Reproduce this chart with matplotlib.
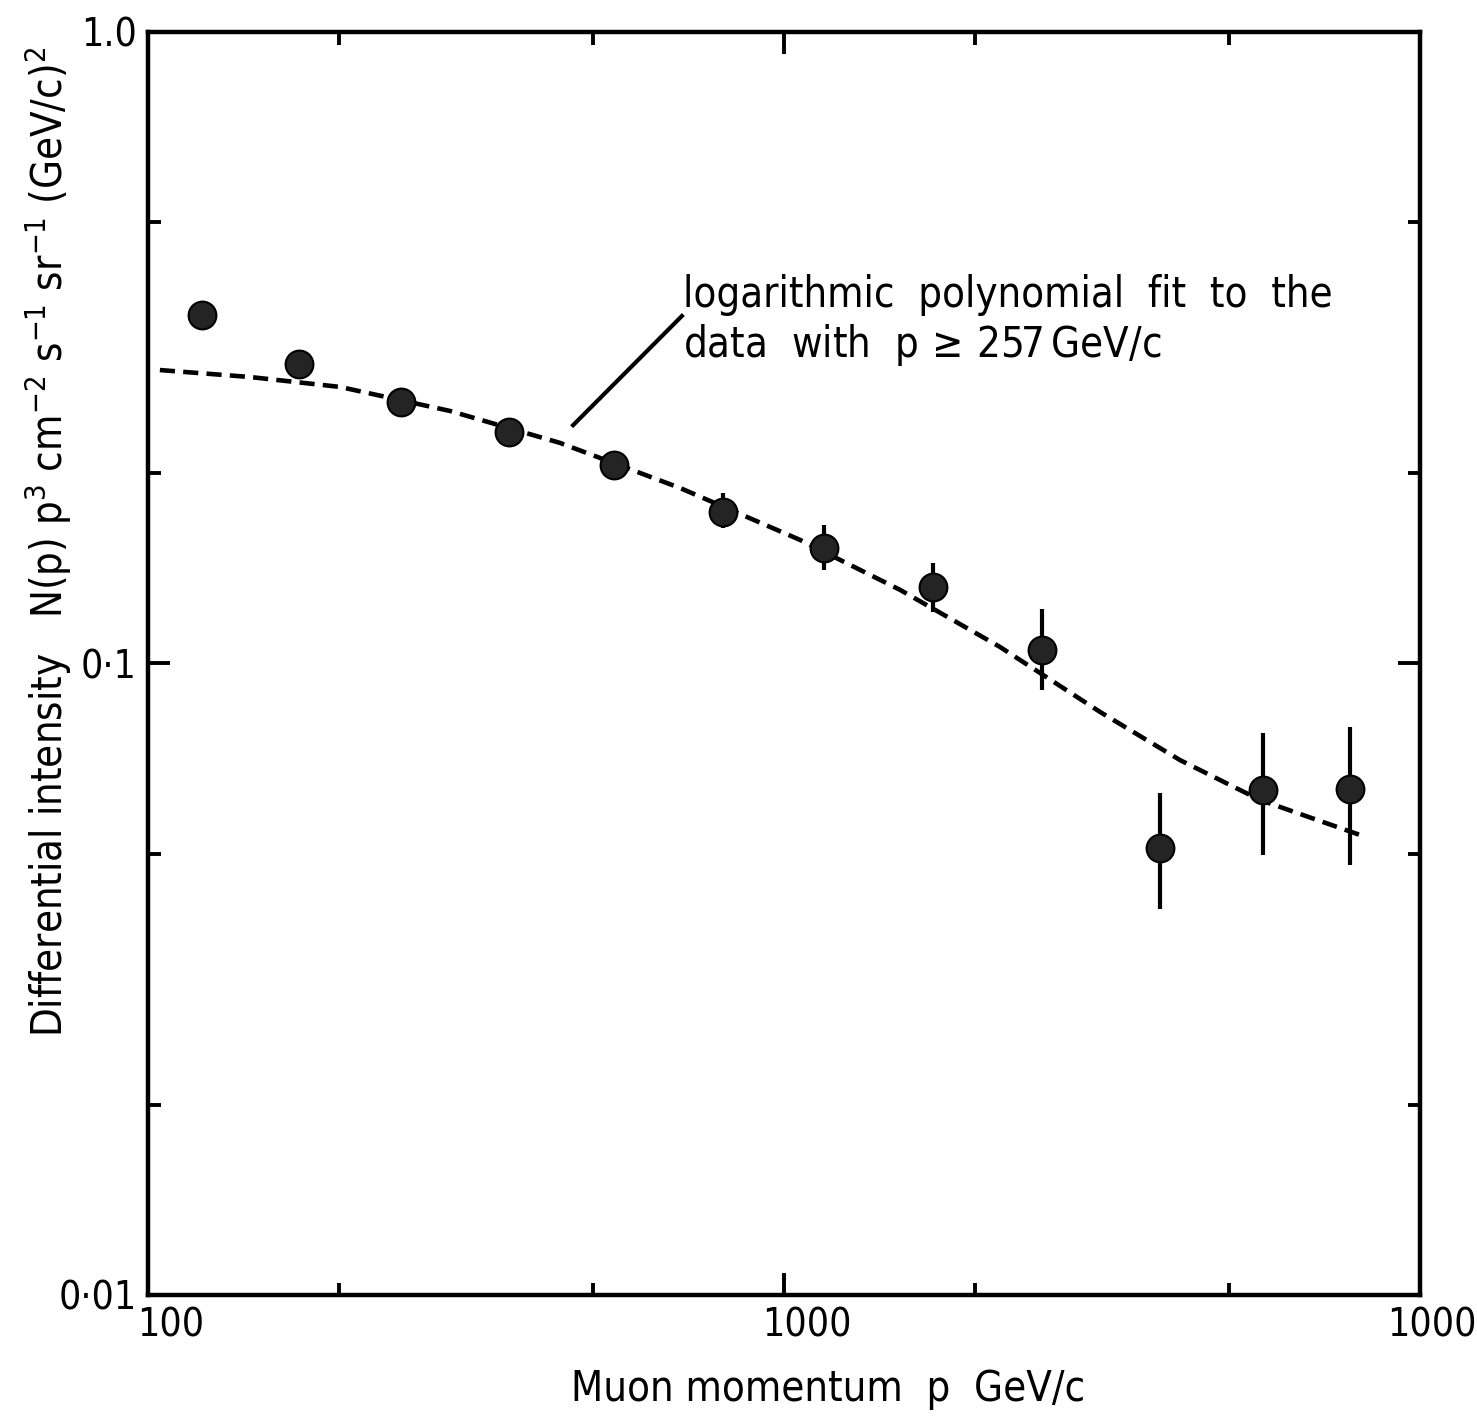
import matplotlib
matplotlib.use("Agg")
import matplotlib.pyplot as plt
from matplotlib.ticker import FixedLocator, FixedFormatter, NullFormatter
from matplotlib.transforms import ScaledTranslation

# Messpunkte
momentum = [121.6, 172.8, 249.9, 369.5, 540.5, 802, 1156, 1715, 2545, 3901, 5664, 7762]
intensity = [0.356, 0.298, 0.2595, 0.2326, 0.2062, 0.1738, 0.1524, 0.1322, 0.1050, 0.0510, 0.0630, 0.0632]
obere_grenze = [0.356, 0.298, 0.2595, 0.2326, 0.2062, 0.1862, 0.1657, 0.1443, 0.1220, 0.0624, 0.0776, 0.0793]
untere_grenze = [0.356, 0.298, 0.2595, 0.2326, 0.2062, 0.1640, 0.1406, 0.1207, 0.0908, 0.0409, 0.0497, 0.0480]

# logarithmischer Polynom-Fit (gestrichelte Kurve)
fit_p = [104.4, 144.7, 200.4, 298.5, 444.4, 686.5, 1060, 1522, 2186, 3140, 4195, 5603, 8050]
fit_n = [0.2915, 0.2842, 0.2741, 0.2511, 0.2235, 0.1896, 0.1569, 0.1308, 0.1062, 0.0838, 0.0703, 0.0608, 0.0535]

x_ticks = [100, 1000, 10000]
x_tick_labels = ["100", "1000", "10000"]
y_ticks = [0.01, 0.1, 1.0]
y_tick_labels = ["0·01", "0·1", "1.0"]

plt.rcParams["font.family"] = ["DejaVu Sans"]
plt.rcParams["font.stretch"] = "condensed"

fig = plt.figure(figsize=(14.77, 14.21), dpi=100)
ax = fig.add_axes([0.1002, 0.0887, 0.8612, 0.8888])

ax.set_xscale("log")
ax.set_yscale("log")
ax.set_xlim(100, 10000)
ax.set_ylim(0.01, 1.0)

# Kurve
kurve, = ax.plot(fit_p, fit_n, color="black", lw=3.3, zorder=2)
kurve.set_dashes([3.3, 1.8])

# Fehlerbalken + Punkte
fehler_unten = [i - u for i, u in zip(intensity, untere_grenze)]
fehler_oben = [o - i for i, o in zip(intensity, obere_grenze)]
ax.errorbar(momentum, intensity, yerr=[fehler_unten, fehler_oben], fmt="none",
            ecolor="black", elinewidth=3.0, capsize=0, zorder=3)
ax.plot(momentum, intensity, "o", ms=20, mfc="#242424", mec="black", mew=1.5, zorder=4)

# Achsen und Ticks
for s in ax.spines.values():
    s.set_linewidth(3.2)
ax.xaxis.set_major_locator(FixedLocator(x_ticks))
ax.xaxis.set_major_formatter(FixedFormatter(x_tick_labels))
ax.xaxis.set_minor_locator(FixedLocator([200, 500, 2000, 5000]))
ax.xaxis.set_minor_formatter(NullFormatter())
ax.yaxis.set_major_locator(FixedLocator(y_ticks))
ax.yaxis.set_major_formatter(FixedFormatter(y_tick_labels))
ax.yaxis.set_minor_locator(FixedLocator([0.02, 0.05, 0.2, 0.5]))
ax.yaxis.set_minor_formatter(NullFormatter())
ax.tick_params(which="both", direction="in", top=True, right=True, width=2.8, labelsize=28)
ax.tick_params(which="major", length=16, pad=8)
ax.tick_params(which="minor", length=9)

# x-Beschriftungen leicht nach rechts versetzt wie im Original
versatz = ScaledTranslation(0.23, 0, fig.dpi_scale_trans)
for lab in ax.get_xticklabels():
    lab.set_transform(lab.get_transform() + versatz)

ax.set_xlabel("Muon momentum  p  GeV/c", fontsize=30)
ax.xaxis.set_label_coords(0.5346, -0.058)
ax.set_ylabel(r"Differential intensity   N(p) p$^{3}$ cm$^{-2}$ s$^{-1}$ sr$^{-1}$ (GeV/c)$^{2}$",
              fontsize=30)
ax.yaxis.set_label_coords(-0.058, 0.596)

# Beschriftung des Fits mit Hinweislinie
ax.plot([466, 691], [0.2384, 0.355], color="black", lw=3.0, zorder=2)
ax.text(693, 0.3834, "logarithmic  polynomial  fit  to  the", fontsize=30,
        ha="left", va="center")
ax.text(693, 0.3194, r"data  with  p$\,\geq\,$257$\,$GeV/c", fontsize=30,
        ha="left", va="center")

plt.savefig("out.png", dpi=100)
plt.close(fig)
